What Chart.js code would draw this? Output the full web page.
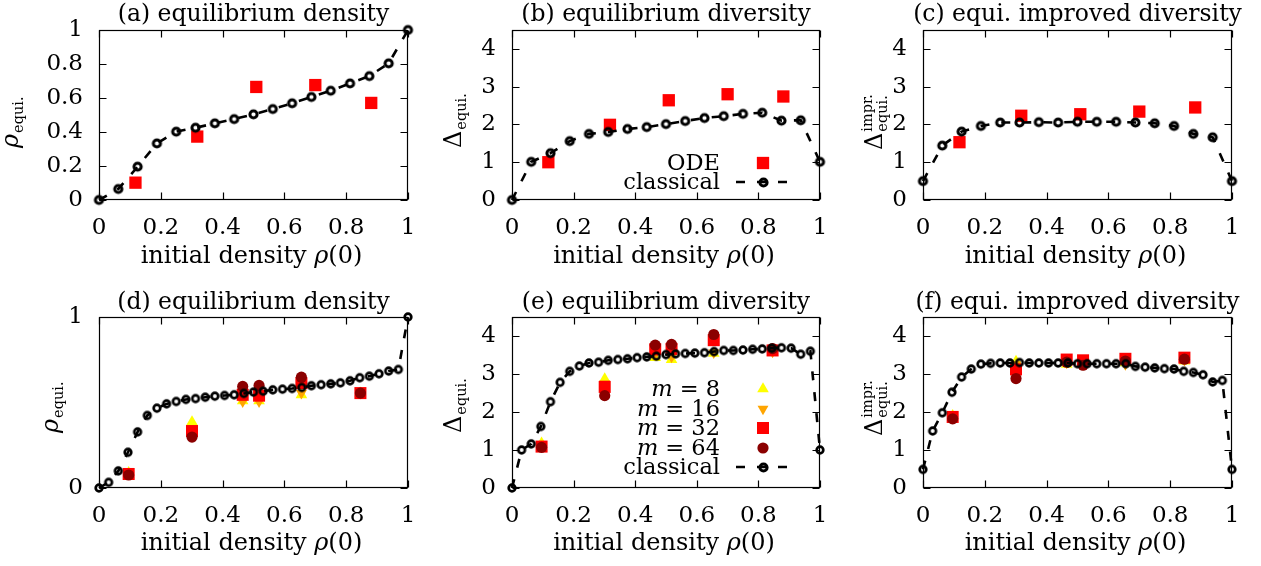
<!DOCTYPE html>
<html>
<head>
<meta charset="utf-8">
<title>equilibrium density / diversity</title>
<script src="https://cdn.jsdelivr.net/npm/chart.js@4.4.1/dist/chart.umd.min.js"></script>
<style>
  html, body { margin: 0; padding: 0; background: #fff; }
  #wrap { position: relative; width: 1261px; height: 566px; overflow: hidden; }
  #wrap canvas { position: absolute; left: 0; top: 0; }
</style>
</head>
<body>
<div id="wrap">
  <canvas id="pa" width="1261" height="566"></canvas>
  <canvas id="pb" width="1261" height="566"></canvas>
  <canvas id="pc" width="1261" height="566"></canvas>
  <canvas id="pd" width="1261" height="566"></canvas>
  <canvas id="pe" width="1261" height="566"></canvas>
  <canvas id="pf" width="1261" height="566"></canvas>
</div>
<script>
// ── Datos ─────────────────────────────────────────────────────
const X_TICKS   = [0, 0.2, 0.4, 0.6, 0.8, 1];
const Y_TICKS_1 = [0, 0.2, 0.4, 0.6, 0.8, 1];
const Y_TICKS_D = [0, 1];
const Y_TICKS_4 = [0, 1, 2, 3, 4];

// grilla clásica gruesa (paneles a-c) y fina (paneles d-f)
const X_COARSE = [0, 0.0625, 0.125, 0.1875, 0.25, 0.3125, 0.375, 0.4375, 0.5,
                  0.5625, 0.625, 0.6875, 0.75, 0.8125, 0.875, 0.9375, 1];
const X_FINE = [0, 0.03125, 0.0625, 0.09375, 0.125, 0.15625, 0.1875, 0.21875, 0.25,
                0.28125, 0.3125, 0.34375, 0.375, 0.40625, 0.4375, 0.46875, 0.5,
                0.53125, 0.5625, 0.59375, 0.625, 0.65625, 0.6875, 0.71875, 0.75,
                0.78125, 0.8125, 0.84375, 0.875, 0.90625, 0.9375, 0.96875, 1];

const A_CLASSICAL = [0, 0.065, 0.196, 0.333, 0.402, 0.425, 0.451, 0.476, 0.504,
                     0.535, 0.569, 0.606, 0.643, 0.686, 0.729, 0.804, 1.0];
const B_CLASSICAL = [0, 1.01, 1.24, 1.56, 1.75, 1.80, 1.88, 1.93, 2.01,
                     2.09, 2.17, 2.22, 2.28, 2.31, 2.10, 2.11, 1.01];
const C_CLASSICAL = [0.50, 1.44, 1.81, 1.96, 2.05, 2.05, 2.06, 2.05, 2.07,
                     2.07, 2.07, 2.05, 2.03, 1.96, 1.75, 1.66, 0.50];

const ODE_X = [0.118, 0.318, 0.509, 0.700, 0.881];
const A_ODE = [0.102, 0.373, 0.665, 0.676, 0.571];
const B_ODE = [1.00, 1.99, 2.64, 2.80, 2.74];
const C_ODE = [1.53, 2.23, 2.27, 2.34, 2.45];

const D_CLASSICAL = [0, 0.033, 0.10, 0.209, 0.328, 0.424, 0.467, 0.492, 0.506,
                     0.518, 0.523, 0.531, 0.537, 0.541, 0.545, 0.553, 0.561,
                     0.566, 0.574, 0.578, 0.582, 0.588, 0.598, 0.604, 0.609,
                     0.615, 0.627, 0.645, 0.654, 0.668, 0.684, 0.693, 1.0];
const E_CLASSICAL = [0, 1.00, 1.16, 1.62, 2.27, 2.78, 3.07, 3.21, 3.29,
                     3.31, 3.36, 3.38, 3.40, 3.43, 3.45, 3.47, 3.51,
                     3.53, 3.54, 3.55, 3.56, 3.59, 3.62, 3.62, 3.63,
                     3.65, 3.66, 3.68, 3.69, 3.68, 3.52, 3.60, 1.00];
const F_CLASSICAL = [0.49, 1.50, 1.98, 2.52, 2.92, 3.13, 3.26, 3.28, 3.29,
                     3.29, 3.30, 3.29, 3.29, 3.29, 3.29, 3.29, 3.27,
                     3.27, 3.27, 3.27, 3.27, 3.27, 3.20, 3.18, 3.16,
                     3.14, 3.13, 3.07, 3.04, 2.98, 2.79, 2.83, 0.49];

const M_X    = [0.096, 0.301, 0.465, 0.518, 0.655, 0.846];
const D_M8   = [0.090, 0.386, 0.510, 0.510, 0.545, 0.555];
const D_M16  = [0.085, 0.350, 0.505, 0.505, 0.555, 0.555];
const D_M32  = [0.082, 0.333, 0.545, 0.540, 0.613, 0.555];
const D_M64  = [0.076, 0.298, 0.594, 0.600, 0.648, 0.555];
const E_M8   = [1.18, 2.87, 3.43, 3.38, 3.54, 3.56];
const E_M16  = [1.12, 2.75, 3.52, 3.45, 3.56, 3.58];
const E_M32  = [1.09, 2.66, 3.65, 3.66, 3.89, 3.62];
const E_M64  = [1.07, 2.43, 3.76, 3.78, 4.04, 3.67];
const F_M8   = [1.90, 3.33, 3.25, 3.27, 3.29, 3.34];
const F_M16  = [1.88, 3.25, 3.29, 3.25, 3.25, 3.36];
const F_M32  = [1.87, 3.12, 3.38, 3.36, 3.40, 3.43];
const F_M64  = [1.82, 2.88, 3.31, 3.23, 3.34, 3.39];

// ── Estilo ────────────────────────────────────────────────────
const W = 1261, H = 566;
const SERIF = "'DejaVu Serif', serif";
const TICK = 7;
const YW = 60, XH = 50;

const MARK = {
  ode:  { pointStyle: 'rect',     radius: 8.7, color: '#ff0000', rot: 0 },
  m8:   { pointStyle: 'triangle', radius: 6.7, color: '#ffff00', rot: 0 },
  m16:  { pointStyle: 'triangle', radius: 6.3, color: '#ffa500', rot: 180 },
  m32:  { pointStyle: 'rect',     radius: 8.5, color: '#ff0000', rot: 0 },
  m64:  { pointStyle: 'circle',   radius: 5.6, color: '#8b0000', rot: 0 },
};

// círculo abierto tipo gnuplot (pt 6) como imagen para pointStyle
function ringImage(r, lw) {
  const size = Math.ceil(2 * r + lw + 2);
  const c = document.createElement('canvas');
  c.width = size; c.height = size;
  const g = c.getContext('2d');
  g.strokeStyle = '#000';
  g.lineWidth = lw;
  g.beginPath(); g.arc(size / 2, size / 2, r, 0, Math.PI * 2); g.stroke();
  return c;
}
const RING_BIG   = ringImage(3.6, 3);
const RING_SMALL = ringImage(3.3, 2.7);

const pts = (xs, ys) => xs.map((x, i) => ({ x, y: ys[i] }));

function classicalDs(xs, ys, ring) {
  return {
    data: pts(xs, ys), showLine: true, order: 1, clip: false,
    borderColor: '#000', borderWidth: 2.6, borderDash: [9, 12],
    pointStyle: ring, pointRadius: 5, tension: 0,
  };
}

function markDs(kind, xs, ys, order) {
  const m = MARK[kind];
  return {
    data: pts(xs, ys), showLine: false, order, clip: false,
    pointStyle: m.pointStyle, pointRadius: m.radius, pointRotation: m.rot,
    pointBackgroundColor: m.color, pointBorderWidth: 0, pointBorderColor: m.color,
  };
}

// ── Marco con ticks hacia adentro (estilo gnuplot) ────────────
const framePlugin = {
  id: 'gnuFrame',
  beforeDatasetsDraw(chart) {
    const { ctx, chartArea: a, scales: { x, y } } = chart;
    const L = Math.round(a.left) + 0.5, R = Math.round(a.right) - 0.5;
    const T = Math.round(a.top) + 0.5, B = Math.round(a.bottom) - 0.5;
    ctx.save();
    ctx.strokeStyle = '#000';
    ctx.lineWidth = 1.2;
    ctx.strokeRect(L, T, R - L, B - T);
    ctx.beginPath();
    x.ticks.forEach(t => {
      const px = Math.round(x.getPixelForValue(t.value)) + 0.5;
      ctx.moveTo(px, B); ctx.lineTo(px, B - TICK);
      ctx.moveTo(px, T); ctx.lineTo(px, T + TICK);
    });
    y.ticks.forEach(t => {
      const py = Math.round(y.getPixelForValue(t.value)) + 0.5;
      ctx.moveTo(L, py); ctx.lineTo(L + TICK, py);
      ctx.moveTo(R, py); ctx.lineTo(R - TICK, py);
    });
    ctx.stroke();
    ctx.restore();
  },
};

// ── Textos: título, ejes, leyenda ─────────────────────────────
function runWidths(ctx, runs, size) {
  return runs.map(([t, it]) => {
    ctx.font = (it ? 'italic ' : '') + size + 'px ' + SERIF;
    return ctx.measureText(t).width;
  });
}

function drawRunsAt(ctx, runs, x, y, size, widths) {
  ctx.textAlign = 'left';
  runs.forEach(([t, it], i) => {
    ctx.font = (it ? 'italic ' : '') + size + 'px ' + SERIF;
    ctx.fillText(t, x, y);
    x += widths[i];
  });
}

function drawRuns(ctx, runs, cx, y, size) {
  const w = runWidths(ctx, runs, size);
  drawRunsAt(ctx, runs, cx - w.reduce((s, v) => s + v, 0) / 2, y, size, w);
}

function drawRunsRight(ctx, runs, right, y, size) {
  const w = runWidths(ctx, runs, size);
  drawRunsAt(ctx, runs, right - w.reduce((s, v) => s + v, 0), y, size, w);
}

function drawSym(ctx, kind, x, y) {
  ctx.save();
  if (kind === 'classical') {
    ctx.strokeStyle = '#000';
    ctx.lineWidth = 2.6;
    ctx.setLineDash([9, 12]);
    ctx.beginPath(); ctx.moveTo(x - 27, y); ctx.lineTo(x + 28, y); ctx.stroke();
    ctx.drawImage(RING_BIG, Math.round(x - RING_BIG.width / 2), Math.round(y - RING_BIG.height / 2));
  } else {
    const m = MARK[kind];
    ctx.fillStyle = m.color;
    ctx.beginPath();
    if (m.pointStyle === 'rect') {
      const s = Math.SQRT1_2 * m.radius;
      ctx.rect(x - s, y - s, 2 * s, 2 * s);
    } else if (m.pointStyle === 'circle') {
      ctx.arc(x, y, m.radius, 0, Math.PI * 2);
    } else {
      const d = m.rot ? -1 : 1, r = m.radius;
      ctx.moveTo(x, y - d * r);
      ctx.lineTo(x + r * Math.sin(2 * Math.PI / 3), y + d * r / 2);
      ctx.lineTo(x - r * Math.sin(2 * Math.PI / 3), y + d * r / 2);
      ctx.closePath();
    }
    ctx.fill();
  }
  ctx.restore();
}

const textPlugin = {
  id: 'gnuText',
  afterDraw(chart, args, o) {
    const ctx = chart.ctx;
    const a = chart.chartArea;
    const cx = (a.left + a.right) / 2;
    ctx.save();
    ctx.fillStyle = '#000';
    ctx.textBaseline = 'alphabetic';

    // título del panel
    ctx.font = '23.5px ' + SERIF;
    ctx.textAlign = 'center';
    ctx.fillText(o.title, cx, o.titleY);

    // eje x
    drawRuns(ctx, [['initial density ', false], ['ρ', true], ['(0)', false]], cx - 2, o.xlabY, 24);

    // eje y (rotado, con sub/superíndice)
    ctx.save();
    ctx.translate(o.ylabX, o.ylabY);
    ctx.rotate(-Math.PI / 2);
    ctx.textAlign = 'left';
    ctx.font = (o.ylabItalic ? 'italic ' : '') + '24px ' + SERIF;
    ctx.fillText(o.ylabMain, 0, 0);
    const w = ctx.measureText(o.ylabMain).width;
    ctx.font = '14.5px ' + SERIF;
    if (o.ylabSup) ctx.fillText(o.ylabSup, w + 1, -10);
    ctx.fillText(o.ylabSub, w + 1, 5);
    ctx.restore();

    // leyenda
    if (o.legend) {
      o.legend.forEach((e, i) => {
        const by = o.legendY[i];
        drawRunsRight(ctx, e.runs, 720, by, 22.5);
        drawSym(ctx, e.sym, 763, by - 7);
      });
    }
    ctx.restore();
  },
};

const tickFmt = v => String(+Number(v).toFixed(1));

function makePanel(id, area, yMax, yTicks, datasets, text) {
  return new Chart(document.getElementById(id), {
    type: 'scatter',
    data: { datasets },
    options: {
      responsive: false,
      animation: false,
      events: [],
      layout: {
        padding: { left: area.l - YW, right: W - area.r, top: area.t, bottom: H - area.b - XH },
      },
      plugins: {
        legend: { display: false },
        tooltip: { enabled: false },
        gnuText: text,
      },
      scales: {
        x: {
          type: 'linear', min: 0, max: 1,
          afterFit: s => { s.height = XH; },
          afterBuildTicks: s => { s.ticks = X_TICKS.map(v => ({ value: v })); },
          grid: { display: false, drawTicks: false },
          border: { display: false },
          ticks: { color: '#000', padding: 14, maxRotation: 0, autoSkip: false,
                   font: { family: SERIF, size: 23 }, callback: tickFmt },
        },
        y: {
          type: 'linear', min: 0, max: yMax,
          afterFit: s => { s.width = YW; },
          afterBuildTicks: s => { s.ticks = yTicks.map(v => ({ value: v })); },
          grid: { display: false, drawTicks: false },
          border: { display: false },
          ticks: { color: '#000', padding: 16, autoSkip: false,
                   font: { family: SERIF, size: 23 }, callback: tickFmt },
        },
      },
    },
    plugins: [framePlugin, textPlugin],
  });
}

const LEG_ODE = [
  { runs: [['ODE', false]], sym: 'ode' },
  { runs: [['classical', false]], sym: 'classical' },
];
const LEG_M = [
  { runs: [['m', true], [' = 8', false]], sym: 'm8' },
  { runs: [['m', true], [' = 16', false]], sym: 'm16' },
  { runs: [['m', true], [' = 32', false]], sym: 'm32' },
  { runs: [['m', true], [' = 64', false]], sym: 'm64' },
  { runs: [['classical', false]], sym: 'classical' },
];

const mSets = (m8, m16, m32, m64) => [
  markDs('m8', M_X, m8, 5),
  markDs('m16', M_X, m16, 4),
  markDs('m32', M_X, m32, 3),
  markDs('m64', M_X, m64, 2),
];

// ── Paneles ───────────────────────────────────────────────────
makePanel('pa', { l: 99, r: 408, t: 30, b: 200 }, 1, Y_TICKS_1,
  [markDs('ode', ODE_X, A_ODE, 2), classicalDs(X_COARSE, A_CLASSICAL, RING_BIG)],
  { title: '(a) equilibrium density', titleY: 21, xlabY: 263,
    ylabMain: 'ρ', ylabItalic: true, ylabSub: 'equi.', ylabX: 18, ylabY: 148 });

makePanel('pb', { l: 512, r: 820, t: 30, b: 200 }, 4.5, Y_TICKS_4,
  [markDs('ode', ODE_X, B_ODE, 2), classicalDs(X_COARSE, B_CLASSICAL, RING_BIG)],
  { title: '(b) equilibrium diversity', titleY: 21, xlabY: 263,
    ylabMain: 'Δ', ylabSub: 'equi.', ylabX: 461, ylabY: 148,
    legend: LEG_ODE, legendY: [170, 189] });

makePanel('pc', { l: 923, r: 1232, t: 30, b: 200 }, 4.5, Y_TICKS_4,
  [markDs('ode', ODE_X, C_ODE, 2), classicalDs(X_COARSE, C_CLASSICAL, RING_BIG)],
  { title: '(c) equi. improved diversity', titleY: 21, xlabY: 263,
    ylabMain: 'Δ', ylabSub: 'equi.', ylabSup: 'impr.', ylabX: 882, ylabY: 150 });

makePanel('pd', { l: 99, r: 408, t: 317, b: 488 }, 1, Y_TICKS_D,
  [...mSets(D_M8, D_M16, D_M32, D_M64), classicalDs(X_FINE, D_CLASSICAL, RING_SMALL)],
  { title: '(d) equilibrium density', titleY: 309, xlabY: 550,
    ylabMain: 'ρ', ylabItalic: true, ylabSub: 'equi.', ylabX: 58, ylabY: 433 });

makePanel('pe', { l: 512, r: 820, t: 317, b: 488 }, 4.5, Y_TICKS_4,
  [...mSets(E_M8, E_M16, E_M32, E_M64), classicalDs(X_FINE, E_CLASSICAL, RING_SMALL)],
  { title: '(e) equilibrium diversity', titleY: 309, xlabY: 550,
    ylabMain: 'Δ', ylabSub: 'equi.', ylabX: 461, ylabY: 433,
    legend: LEG_M, legendY: [396, 416, 435, 455, 474] });

makePanel('pf', { l: 923, r: 1232, t: 317, b: 488 }, 4.5, Y_TICKS_4,
  [...mSets(F_M8, F_M16, F_M32, F_M64), classicalDs(X_FINE, F_CLASSICAL, RING_SMALL)],
  { title: '(f) equi. improved diversity', titleY: 309, xlabY: 550,
    ylabMain: 'Δ', ylabSub: 'equi.', ylabSup: 'impr.', ylabX: 882, ylabY: 436 });
</script>
</body>
</html>
